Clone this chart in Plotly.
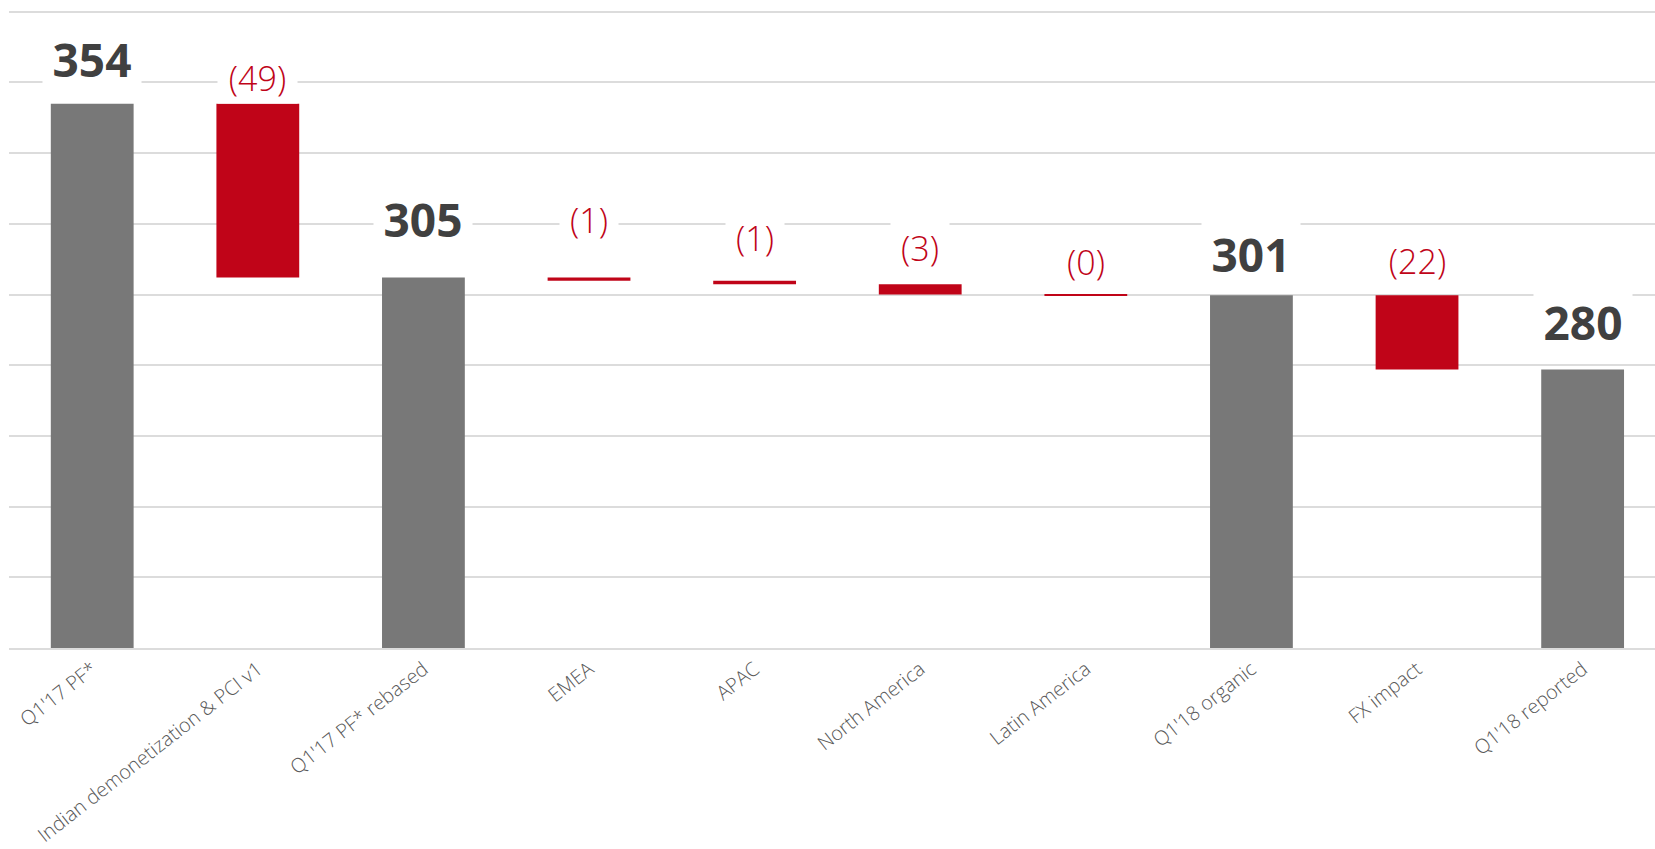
import plotly.graph_objects as go

# ---- data ----
categories = ["Q1'17 PF*", "Indian demonetization & PCI v1", "Q1'17 PF* rebased",
              "EMEA", "APAC", "North America", "Latin America",
              "Q1'18 organic", "FX impact", "Q1'18 reported"]
measures = ["absolute", "relative", "total", "relative", "relative", "relative",
            "relative", "total", "relative", "total"]
values = [354.0, -49.2, 0, -0.9, -1.0, -2.9, -0.2, 0, -21.0, 0]
label_texts = ["354", "(49)", "305", "(1)", "(1)", "(3)", "(0)", "301", "(22)", "280"]

# ---- style ----
GRAY = "#787878"
RED = "#C00418"
DARK = "#404040"
GRID = "#dcdcdc"
FONT = "Open Sans"
# vertical offsets (px) of each label centre above its bar top
label_offsets = [44, 25, 58, 57, 42, 35, 32, 40, 33, 46]

fig = go.Figure(go.Waterfall(
    x=categories,
    y=values,
    measure=measures,
    connector={"visible": False},
    decreasing={"marker": {"color": RED}},
    increasing={"marker": {"color": GRAY}},
    totals={"marker": {"color": GRAY}},
    textposition="none",
    hoverinfo="skip",
))

# compute bar tops from the data for label placement
cum = 0.0
tops = []
for m, v in zip(measures, values):
    if m == "absolute":
        cum = v
        tops.append(cum)
    elif m == "total":
        tops.append(cum)
    else:
        tops.append(max(cum, cum + v))
        cum = cum + v

for cat, top, txt, off in zip(categories, tops, label_texts, label_offsets):
    is_total = not txt.startswith("(")
    if is_total:
        font = dict(family=FONT, size=46, color=DARK, weight="bold")
        width = 31 * len(txt) + 1
    else:
        font = dict(family=FONT, size=34, color=RED, weight=300)
        width = 21 * len(txt) - 9
    fig.add_annotation(
        x=cat, y=top, xref="x", yref="y",
        text=txt, showarrow=False,
        yanchor="middle", xanchor="center",
        yshift=off + 1,
        font=font,
        bgcolor="white", borderpad=2, width=width,
    )

fig.update_layout(
    width=1655, height=849,
    margin=dict(l=9, r=0, t=10, b=201),
    paper_bgcolor="white", plot_bgcolor="white",
    waterfallgap=0.5,
    showlegend=False,
    xaxis=dict(
        range=[-0.5025, 9.437],
        tickangle=-38,
        tickfont=dict(family=FONT, size=19.8, color="#595959", weight=300),
        showgrid=False,
        showline=True, linecolor=GRID, linewidth=2,
        ticks="", automargin=False,
    ),
    yaxis=dict(
        range=[200, 380.5],
        tick0=200, dtick=20,
        showgrid=True, gridcolor=GRID, gridwidth=2,
        showticklabels=False, zeroline=False, ticks="",
        automargin=False,
    ),
)

fig.write_html("out.html")
